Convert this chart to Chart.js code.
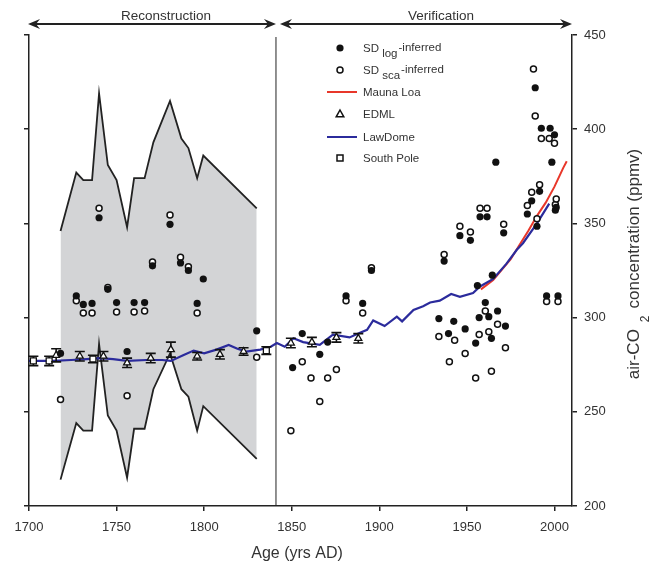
<!DOCTYPE html>
<html lang="en">
<head>
<meta charset="UTF-8">
<title>air-CO2 reconstruction</title>
<script src="https://cdn.jsdelivr.net/npm/chart.js"></script>
<style>
  body { margin: 0; background: #fff; }
</style>
</head>
<body>
<canvas id="co2Chart" width="657" height="569"></canvas>
<script>
// axis ticks
const xTicks = [1700, 1750, 1800, 1850, 1900, 1950, 2000];
const yTicks = [200, 250, 300, 350, 400, 450];
const splitYear = 1841;

// uncertainty envelope of the reconstruction
const bandYears = [1718, 1727, 1731, 1736, 1740, 1745, 1750, 1756, 1760, 1766, 1771, 1780.5, 1787, 1791, 1796, 1799.5, 1830];
const bandUpper = [346, 377, 373, 373, 419, 381, 373, 348, 374, 374, 393, 415, 395, 390, 374, 386, 358];
const bandLower = [214, 244, 240, 240, 286, 248, 240, 215, 241, 241, 262, 281, 262, 258, 240, 253, 225];

// SD log-inferred (filled) and SD sca-inferred (open), [year, ppmv]
const sdLogPoints = [
  [1718, 281], [1727, 311.5], [1731, 307], [1736, 307.5], [1740, 353], [1745, 315], [1750, 308],
  [1756, 282], [1760, 308], [1766, 308], [1770.5, 327.5], [1780.5, 349.5], [1786.5, 329], [1791, 325],
  [1796, 307.5], [1799.5, 320.5], [1830, 293],
  [1850.5, 273.5], [1856, 291.5], [1866, 280.5], [1870.5, 287], [1881, 311.5], [1890.5, 307.5], [1895.5, 325],
  [1934, 299.5], [1937, 330], [1939.5, 291.5], [1942.5, 298], [1946, 343.5], [1949, 294], [1952, 341],
  [1955, 286.5], [1956, 317], [1957, 300], [1957.5, 353.5], [1960.5, 308], [1961.5, 353.5], [1962.5, 300.5],
  [1964, 289], [1964.5, 322.5], [1966.5, 382.5], [1967.5, 303.5], [1971, 345], [1972, 295.5], [1984.5, 355],
  [1987, 362], [1989, 422], [1990, 348.5], [1991.5, 367], [1992.5, 400.5], [1995.5, 311.5], [1997.5, 400.5],
  [1998.5, 382.5], [2000, 397], [2000.5, 357], [2001, 358.5], [2002, 311.5]
];
const sdScaPoints = [
  [1718, 256.5], [1727, 309], [1731, 302.5], [1736, 302.5], [1740, 358], [1745, 316], [1750, 303],
  [1756, 258.5], [1760, 303], [1766, 303.5], [1770.5, 329.5], [1780.5, 354.5], [1786.5, 332], [1791, 327],
  [1796, 302.5], [1830, 279],
  [1849.5, 240], [1856, 276.5], [1861, 268], [1866, 255.5], [1870.5, 268], [1875.5, 272.5], [1881, 309],
  [1890.5, 302.5], [1895.5, 326.5], [1934, 290], [1937, 333.5], [1940, 276.5], [1943, 288], [1946, 348.5],
  [1949, 281], [1952, 345.5], [1955, 268], [1957, 291], [1957.5, 358], [1960.5, 303.5], [1961.5, 358],
  [1962.5, 292.5], [1964, 271.5], [1967.5, 296.5], [1971, 349.5], [1972, 284], [1984.5, 359.5], [1987, 366.5],
  [1988, 432], [1989, 407], [1990, 352.5], [1991.5, 370.5], [1992.5, 395], [1995.5, 308.5], [1997, 395],
  [2000, 392.5], [2000.5, 360], [2001, 363], [2002, 308.5]
];

// ice core records with errors
const edmlPoints = [[1715.5, 280], [1729, 279.5], [1742.5, 279.5], [1756, 276], [1769.5, 278.5], [1781, 283],
  [1796, 279.5], [1809, 280.5], [1822.5, 282], [1849.5, 286.5], [1861.5, 287], [1875.5, 289.5], [1888, 289]];
const edmlErr = [3.5, 2.5, 2.5, 2.5, 2.5, 4, 2, 2.5, 2, 2.5, 2.5, 2.5, 2.5];
const southPolePoints = [[1702.5, 277], [1711.5, 277], [1736.5, 278], [1835.5, 282.5]];
const southPoleErr = [2.5, 2.5, 2, 2];

// Law Dome and Mauna Loa records
const lawYears = [1700, 1714, 1724, 1733, 1740.5, 1748, 1756, 1767, 1776, 1781, 1788, 1794, 1800, 1807, 1814,
  1819, 1824, 1832, 1838, 1841.5, 1846, 1851, 1856.5, 1866, 1873.5, 1883, 1889, 1893, 1896.5, 1903, 1910,
  1913, 1919.5, 1925, 1929, 1934.5, 1941, 1946, 1953.5, 1957.5, 1965, 1972.5, 1978.5, 1982, 1990, 1997];
const lawValues = [277, 277, 277.5, 278, 278.5, 278, 277, 277.5, 277.5, 277, 280, 282.5, 281, 283, 285.5,
  283.5, 282, 283, 284.5, 286.5, 284.5, 289, 287, 285.5, 291, 289.5, 292, 293.5, 298.5, 295.5, 300.5,
  298, 304, 306, 308, 309, 312.5, 311, 313, 316.5, 320.5, 328.5, 336, 339.5, 350, 360.5];
const maunaYears = [1958, 1965, 1970, 1975, 1980, 1985, 1990, 1995, 2000, 2005, 2007];
const maunaValues = [315, 320, 325.5, 331, 338.5, 346, 354, 361, 369.5, 379.5, 383];

const FONT = '"Liberation Sans", Arial, sans-serif';
const toXY = pts => pts.map(p => ({ x: p[0], y: p[1] }));
const zipXY = (xs, ys) => xs.map((x, i) => ({ x: x, y: ys[i] }));

function arrowHead(ctx, x, y, dir) {
  ctx.beginPath();
  ctx.moveTo(x, y);
  ctx.lineTo(x - dir * 12, y - 5);
  ctx.lineTo(x - dir * 8, y);
  ctx.lineTo(x - dir * 12, y + 5);
  ctx.closePath();
  ctx.fill();
}

function drawMarker(ctx, kind, x, y) {
  ctx.save();
  ctx.lineWidth = 1.5;
  ctx.strokeStyle = '#111';
  ctx.fillStyle = '#fff';
  ctx.beginPath();
  if (kind === 'filled') {
    ctx.fillStyle = '#111';
    ctx.arc(x, y, 3.6, 0, Math.PI * 2);
    ctx.fill();
  } else if (kind === 'open') {
    ctx.arc(x, y, 3, 0, Math.PI * 2);
    ctx.fill(); ctx.stroke();
  } else if (kind === 'tri') {
    ctx.moveTo(x, y - 4);
    ctx.lineTo(x + 3.8, y + 2.8);
    ctx.lineTo(x - 3.8, y + 2.8);
    ctx.closePath();
    ctx.fill(); ctx.stroke();
  } else if (kind === 'square') {
    ctx.rect(x - 3, y - 3, 6, 6);
    ctx.fill(); ctx.stroke();
  }
  ctx.restore();
}

const errorBars = {
  id: 'errorBars',
  beforeDatasetDraw(chart, args) {
    const ds = chart.data.datasets[args.index];
    if (!ds.errors) return;
    const xs = chart.scales.x, ys = chart.scales.y, ctx = chart.ctx;
    ctx.save();
    ctx.strokeStyle = '#111';
    ctx.lineWidth = 1.6;
    ds.data.forEach((p, i) => {
      const px = xs.getPixelForValue(p.x);
      const top = ys.getPixelForValue(p.y + ds.errors[i]);
      const bot = ys.getPixelForValue(p.y - ds.errors[i]);
      ctx.beginPath();
      ctx.moveTo(px, top); ctx.lineTo(px, bot);
      ctx.moveTo(px - 5, top); ctx.lineTo(px + 5, top);
      ctx.moveTo(px - 5, bot); ctx.lineTo(px + 5, bot);
      ctx.stroke();
    });
    ctx.restore();
  }
};

const decor = {
  id: 'decor',
  beforeDatasetsDraw(chart) {
    const ctx = chart.ctx, area = chart.chartArea;
    const sx = chart.scales.x.getPixelForValue(splitYear);
    ctx.save();
    ctx.strokeStyle = '#222';
    ctx.lineWidth = 1;
    ctx.beginPath();
    ctx.moveTo(sx, area.top + 2);
    ctx.lineTo(sx, area.bottom);
    ctx.stroke();
    ctx.restore();
  },
  afterDraw(chart) {
    const ctx = chart.ctx, area = chart.chartArea;
    const sx = chart.scales.x.getPixelForValue(splitYear);
    ctx.save();

    // period arrows
    const ay = 24;
    ctx.strokeStyle = '#222';
    ctx.fillStyle = '#222';
    ctx.lineWidth = 2;
    ctx.beginPath();
    ctx.moveTo(area.left + 4, ay); ctx.lineTo(sx - 4, ay);
    ctx.moveTo(sx + 8, ay); ctx.lineTo(area.right - 4, ay);
    ctx.stroke();
    arrowHead(ctx, area.left - 1, ay, -1);
    arrowHead(ctx, sx, ay, 1);
    arrowHead(ctx, sx + 4, ay, -1);
    arrowHead(ctx, area.right, ay, 1);

    ctx.fillStyle = '#333';
    ctx.font = '13.5px ' + FONT;
    ctx.textAlign = 'center';
    ctx.textBaseline = 'alphabetic';
    ctx.fillText('Reconstruction', 166, 20);
    ctx.fillText('Verification', 441, 20);

    // legend
    const lx = 340, tx = 363;
    const rows = [48, 70, 92, 114, 137, 158];
    ctx.textAlign = 'left';
    ctx.font = '11.5px ' + FONT;
    const subLabel = (y, sub) => {
      let x = tx;
      ctx.fillText('SD', x, y + 4);
      x += ctx.measureText('SD ').width;
      ctx.fillText(sub, x, y + 9);
      x += ctx.measureText(sub).width + 1;
      ctx.fillText('-inferred', x, y + 3);
    };
    drawMarker(ctx, 'filled', lx, rows[0]);
    subLabel(rows[0], 'log');
    drawMarker(ctx, 'open', lx, rows[1]);
    subLabel(rows[1], 'sca');
    ctx.lineWidth = 2;
    ctx.strokeStyle = '#e8372a';
    ctx.beginPath(); ctx.moveTo(327, rows[2]); ctx.lineTo(357, rows[2]); ctx.stroke();
    ctx.fillText('Mauna Loa', tx, rows[2] + 4);
    drawMarker(ctx, 'tri', lx, rows[3]);
    ctx.fillText('EDML', tx, rows[3] + 4);
    ctx.strokeStyle = '#2b2b9c';
    ctx.beginPath(); ctx.moveTo(327, rows[4]); ctx.lineTo(357, rows[4]); ctx.stroke();
    ctx.fillText('LawDome', tx, rows[4] + 4);
    drawMarker(ctx, 'square', lx, rows[5]);
    ctx.fillText('South Pole', tx, rows[5] + 4);

    // axis titles
    ctx.fillStyle = '#333';
    ctx.font = '16px ' + FONT;
    ctx.textAlign = 'center';
    ctx.fillText('Age (yrs AD)', 297, 558);

    ctx.translate(639, 264);
    ctx.rotate(-Math.PI / 2);
    const a = 'air-CO', b = '2', c = 'concentration (ppmv)';
    const gap = 7;
    ctx.font = '17px ' + FONT;
    const wa = ctx.measureText(a).width + gap;
    const wc = ctx.measureText(c).width + gap;
    ctx.font = '12px ' + FONT;
    const wb = ctx.measureText(b).width;
    let x0 = -(wa + wb + wc) / 2;
    ctx.textAlign = 'left';
    ctx.font = '17px ' + FONT;
    ctx.fillText(a, x0, 0);
    ctx.font = '12px ' + FONT;
    ctx.fillText(b, x0 + wa, 10);
    ctx.font = '17px ' + FONT;
    ctx.fillText(c, x0 + wa + wb + gap, 0);
    ctx.restore();
  }
};

const axisGrid = { display: true, drawOnChartArea: false, drawTicks: true, tickLength: 5, color: '#222', lineWidth: 1.5 };
const axisBorder = { display: true, color: '#222', width: 1.5 };

new Chart(document.getElementById('co2Chart'), {
  type: 'scatter',
  data: {
    datasets: [
      {
        label: 'SD log-inferred',
        data: toXY(sdLogPoints),
        pointRadius: 3.6,
        pointBackgroundColor: '#111',
        pointBorderColor: '#111',
        pointBorderWidth: 0,
        order: 1
      },
      {
        label: 'SD sca-inferred',
        data: toXY(sdScaPoints),
        pointRadius: 3,
        pointBackgroundColor: '#fff',
        pointBorderColor: '#111',
        pointBorderWidth: 1.5,
        order: 1
      },
      {
        label: 'EDML',
        data: toXY(edmlPoints),
        errors: edmlErr,
        pointStyle: 'triangle',
        pointRadius: 4,
        pointBackgroundColor: '#fff',
        pointBorderColor: '#111',
        pointBorderWidth: 1.3,
        order: 2
      },
      {
        label: 'South Pole',
        data: toXY(southPolePoints),
        errors: southPoleErr,
        pointStyle: 'rect',
        pointRadius: 4.2,
        pointBackgroundColor: '#fff',
        pointBorderColor: '#111',
        pointBorderWidth: 1.3,
        order: 2
      },
      {
        label: 'LawDome',
        data: zipXY(lawYears, lawValues),
        showLine: true,
        borderColor: '#2b2b9c',
        borderWidth: 2.2,
        pointRadius: 0,
        order: 3
      },
      {
        label: 'Mauna Loa',
        data: zipXY(maunaYears, maunaValues),
        showLine: true,
        borderColor: '#e8372a',
        borderWidth: 2,
        pointRadius: 0,
        order: 4
      },
      {
        label: 'upper',
        data: zipXY(bandYears, bandUpper),
        showLine: true,
        borderColor: '#222',
        borderWidth: 1.8,
        backgroundColor: '#d3d4d6',
        fill: '+1',
        pointRadius: 0,
        order: 10
      },
      {
        label: 'lower',
        data: zipXY(bandYears, bandLower),
        showLine: true,
        borderColor: '#222',
        borderWidth: 1.8,
        pointRadius: 0,
        order: 9
      }
    ]
  },
  options: {
    responsive: false,
    animation: false,
    layout: { padding: { top: 35, left: 0, right: 0, bottom: 0 } },
    plugins: { legend: { display: false }, tooltip: { enabled: false } },
    scales: {
      x: {
        type: 'linear',
        min: 1700,
        max: 2010,
        afterBuildTicks: s => { s.ticks = xTicks.map(v => ({ value: v })); },
        afterFit: s => { s.height = 63; },
        ticks: { color: '#333', font: { family: FONT, size: 13 }, padding: 9, callback: v => String(v) },
        grid: axisGrid,
        border: axisBorder
      },
      y: {
        position: 'right',
        min: 200,
        max: 450,
        afterBuildTicks: s => { s.ticks = yTicks.map(v => ({ value: v })); },
        afterFit: s => { s.width = 85; },
        ticks: { color: '#333', font: { family: FONT, size: 13 }, padding: 7, callback: v => String(v) },
        grid: axisGrid,
        border: axisBorder
      },
      yL: {
        position: 'left',
        min: 200,
        max: 450,
        afterBuildTicks: s => { s.ticks = yTicks.map(v => ({ value: v })); },
        afterFit: s => { s.width = 29; },
        ticks: { display: false },
        grid: axisGrid,
        border: axisBorder
      }
    }
  },
  plugins: [errorBars, decor]
});
</script>
</body>
</html>
